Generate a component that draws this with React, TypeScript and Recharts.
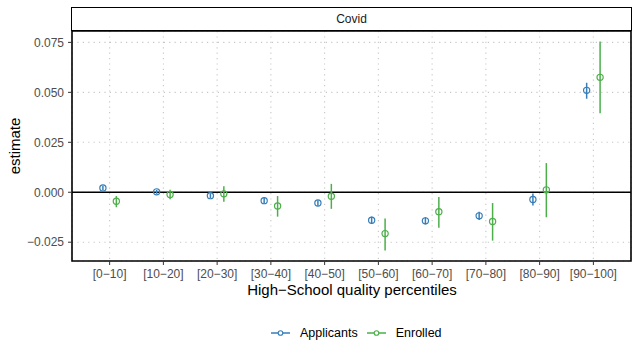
import {
  ScatterChart,
  Scatter,
  XAxis,
  YAxis,
  CartesianGrid,
  ErrorBar,
  ReferenceLine,
  ReferenceArea,
} from 'recharts';

const categories = [
  '[0−10]', '[10−20]', '[20−30]', '[30−40]', '[40−50]',
  '[50−60]', '[60−70]', '[70−80]', '[80−90]', '[90−100]',
];

const applicantsEst = [0.0021, 0.0002, -0.0017, -0.0042, -0.0054, -0.0140, -0.0143, -0.0118, -0.0036, 0.0510];
const applicantsLo = [0.0010, -0.0008, -0.0029, -0.0056, -0.0068, -0.0158, -0.0161, -0.0139, -0.0066, 0.0468];
const applicantsHi = [0.0032, 0.0012, -0.0005, -0.0028, -0.0040, -0.0122, -0.0125, -0.0097, -0.0006, 0.0548];

const enrolledEst = [-0.0045, -0.0011, -0.0008, -0.0069, -0.0020, -0.0207, -0.0097, -0.0146, 0.0012, 0.0575];
const enrolledLo = [-0.0075, -0.0035, -0.0048, -0.0122, -0.0083, -0.0291, -0.0178, -0.0242, -0.0125, 0.0395];
const enrolledHi = [-0.0019, 0.0012, 0.0030, -0.0019, 0.0042, -0.0131, -0.0024, -0.0054, 0.0146, 0.0755];

const yTicks = [-0.025, 0, 0.025, 0.05, 0.075];

const BLUE = '#377EB8';
const GREEN = '#4DAF4A';
const DODGE = 0.125;
const X_DOMAIN: [number, number] = [-0.7, 9.7];
const Y_DOMAIN: [number, number] = [-0.0344, 0.0807];
const FONT = '"Liberation Sans", Arial, sans-serif';

const buildSeries = (est: number[], lo: number[], hi: number[], shift: number) =>
  est.map((v, i) => ({
    x: i + shift,
    y: v,
    err: [v - lo[i], hi[i] - v],
  }));

const applicants = buildSeries(applicantsEst, applicantsLo, applicantsHi, -DODGE);
const enrolled = buildSeries(enrolledEst, enrolledLo, enrolledHi, DODGE);

const fmtY = (v: number) => (v < 0 ? '−' : '') + Math.abs(v).toFixed(3);

const ring = (color: string) => (props: any) => (
  <circle cx={props.cx} cy={props.cy} r={3.1} fill="none" stroke={color} strokeWidth={1.2} />
);

function LegendKey({ color, label }: { color: string; label: string }) {
  return (
    <div style={{ display: 'flex', alignItems: 'center', marginRight: 9 }}>
      <svg width={19} height={10} style={{ marginRight: 10 }}>
        <line x1={0} x2={19} y1={5} y2={5} stroke={color} strokeWidth={1.5} />
        <circle cx={9.5} cy={5} r={2.3} fill="white" stroke={color} strokeWidth={1.1} />
      </svg>
      <span>{label}</span>
    </div>
  );
}

export default function App() {
  return (
    <div
      style={{
        position: 'absolute',
        left: 0,
        top: 0,
        width: 639,
        height: 360,
        background: '#fff',
        fontFamily: FONT,
      }}
    >
      <ScatterChart width={639} height={360} margin={{ top: 31, right: 8, bottom: 69, left: 0 }} style={{ fontFamily: FONT }}>
        <CartesianGrid stroke="#c6c6c6" strokeDasharray="1.2 4.2" strokeWidth={1.1} />
        <XAxis
          type="number"
          dataKey="x"
          domain={X_DOMAIN}
          ticks={categories.map((_, i) => i)}
          tickFormatter={(v: number) => categories[v] ?? ''}
          allowDataOverflow
          height={30}
          axisLine={false}
          tickSize={4}
          tickMargin={4}
          tick={{ fill: '#4d4d4d', fontSize: 12 }}
          tickLine={{ stroke: '#333' }}
          interval={0}
        />
        <YAxis
          type="number"
          dataKey="y"
          domain={Y_DOMAIN}
          ticks={yTicks}
          tickFormatter={fmtY}
          allowDataOverflow
          width={72}
          axisLine={false}
          tickSize={4}
          tickMargin={4}
          tick={{ fill: '#4d4d4d', fontSize: 12 }}
          tickLine={{ stroke: '#333' }}
          interval={0}
        />
        <ReferenceLine y={0} stroke="#000" strokeWidth={1.5} />
        <Scatter name="Applicants" data={applicants} shape={ring(BLUE)} isAnimationActive={false}>
          <ErrorBar dataKey="err" direction="y" width={0} stroke={BLUE} strokeWidth={1.5} />
        </Scatter>
        <Scatter name="Enrolled" data={enrolled} shape={ring(GREEN)} isAnimationActive={false}>
          <ErrorBar dataKey="err" direction="y" width={0} stroke={GREEN} strokeWidth={1.5} />
        </Scatter>
        <ReferenceArea
          x1={X_DOMAIN[0]}
          x2={X_DOMAIN[1]}
          y1={Y_DOMAIN[0]}
          y2={Y_DOMAIN[1]}
          fill="none"
          stroke="#000"
          strokeWidth={1.6}
          ifOverflow="extendDomain"
        />
      </ScatterChart>

      {/* facet strip */}
      <div
        style={{
          position: 'absolute',
          left: 71,
          top: 7,
          width: 561,
          height: 24,
          boxSizing: 'border-box',
          border: '1.5px solid #000',
          display: 'flex',
          alignItems: 'center',
          justifyContent: 'center',
          fontSize: 12,
          color: '#1a1a1a',
        }}
      >
        Covid
      </div>

      <div
        style={{
          position: 'absolute',
          left: 14,
          top: 146,
          transform: 'translate(-50%, -50%) rotate(-90deg)',
          fontSize: 15,
          color: '#000',
          whiteSpace: 'nowrap',
        }}
      >
        estimate
      </div>

      <div
        style={{
          position: 'absolute',
          left: 352,
          top: 288.5,
          transform: 'translate(-50%, -50%)',
          fontSize: 15,
          color: '#000',
          whiteSpace: 'nowrap',
        }}
      >
        High−School quality percentiles
      </div>

      <div
        style={{
          position: 'absolute',
          left: 271,
          top: 332.5,
          transform: 'translateY(-50%)',
          display: 'flex',
          fontSize: 12.5,
          color: '#000',
        }}
      >
        <LegendKey color={BLUE} label="Applicants" />
        <LegendKey color={GREEN} label="Enrolled" />
      </div>
    </div>
  );
}
